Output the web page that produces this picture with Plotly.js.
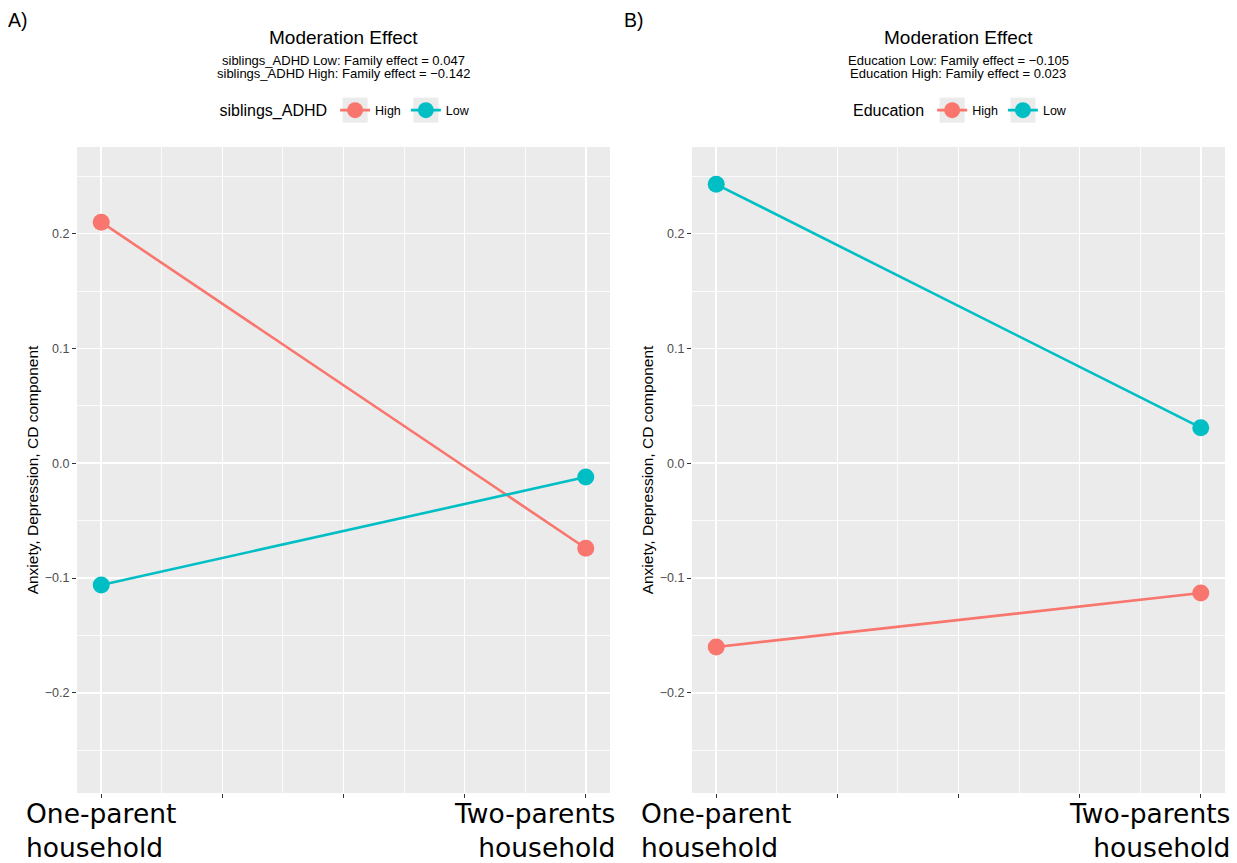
<!DOCTYPE html>
<html><head><meta charset="utf-8">
<script src="https://cdn.plot.ly/plotly-3.0.1.min.js"></script>
<style>html,body{margin:0;padding:0;background:#fff}</style>
</head><body><div id="chart" style="width:1237px;height:863px"></div>
<script>
// ---- data ----
const xPositions = [0, 1];
const xLabelsLeft = ['One-parent', 'household'];
const xLabelsRight = ['Two-parents', 'household'];
const groupNames = ['High', 'Low'];
const panelA_high = [0.210, -0.074];
const panelA_low = [-0.106, -0.012];
const panelB_high = [-0.160, -0.113];
const panelB_low = [0.243, 0.031];
const panelLabels = ['A)', 'B)'];
const panelTitle = 'Moderation Effect';
const panelA_sub = ['siblings_ADHD Low: Family effect = 0.047', 'siblings_ADHD High: Family effect = \u22120.142'];
const panelB_sub = ['Education Low: Family effect = \u22120.105', 'Education High: Family effect = 0.023'];
const legendTitles = ['siblings_ADHD', 'Education'];
const yTitle = 'Anxiety, Depression, CD component';

const RED = '#F8766D', TEAL = '#00BFC4';
const SANS = 'Liberation Sans, Arial, sans-serif';

function tr(y, name, color, xa, ya, leg) {
  return {x: xPositions, y: y, name: name, type: 'scatter', mode: 'lines+markers',
    xaxis: xa, yaxis: ya, legend: leg,
    line: {color: color, width: 2.6},
    marker: {color: color, size: 17}};
}
const data = [
  tr(panelA_high, groupNames[0], RED, 'x', 'y', 'legend'),
  tr(panelA_low, groupNames[1], TEAL, 'x', 'y', 'legend'),
  tr(panelB_high, groupNames[0], RED, 'x2', 'y2', 'legend2'),
  tr(panelB_low, groupNames[1], TEAL, 'x2', 'y2', 'legend2')
];

const W = 1237, H = 863;
const domA = [77/W, 610/W], domB = [692/W, 1225/W];
const ydom = [1-793/H, 1-147/H];

function xax(dom, anchor) {
  return {domain: dom, anchor: anchor, range: [-0.05, 1.05], tickmode: 'linear', tick0: 0, dtick: 0.25,
    showticklabels: false, ticks: 'outside', ticklen: 4, tickwidth: 1.1, tickcolor: '#333333',
    showgrid: true, gridcolor: '#FFFFFF', gridwidth: 1.6, zeroline: false, showline: false,
    minor: {tick0: 0.125, dtick: 0.25, showgrid: true, gridcolor: '#FFFFFF', gridwidth: 0.8, ticks: ''}};
}
function yax(anchor) {
  return {domain: ydom, anchor: anchor, range: [-0.2872, 0.2755], tickmode: 'linear', tick0: 0, dtick: 0.1,
    tickformat: '.1f', ticks: 'outside', ticklen: 4, tickwidth: 1.1, tickcolor: '#333333',
    tickfont: {family: SANS, size: 12.5, color: '#4D4D4D'},
    showgrid: true, gridcolor: '#FFFFFF', gridwidth: 1.6, zeroline: false, showline: false,
    minor: {tick0: 0.05, dtick: 0.1, showgrid: true, gridcolor: '#FFFFFF', gridwidth: 0.8, ticks: ''},
    title: {text: yTitle, font: {family: SANS, size: 15.5, color: '#000'}, standoff: 2}};
}

const ann = [];
function panelText(dom, label, labelX, subs) {
  const cx = (dom[0]+dom[1])/2;
  ann.push({xref: 'paper', yref: 'paper', x: labelX/W, y: 1-20/H, xanchor: 'left', yanchor: 'middle',
    text: label, showarrow: false, font: {family: SANS, size: 19.5, color: '#000'}});
  ann.push({xref: 'paper', yref: 'paper', x: cx, y: 1-37/H, xanchor: 'center', yanchor: 'middle',
    text: panelTitle, showarrow: false, font: {family: SANS, size: 19, color: '#000'}});
  ann.push({xref: 'paper', yref: 'paper', x: cx, y: 1-60/H, xanchor: 'center', yanchor: 'middle',
    text: subs[0], showarrow: false, font: {family: SANS, size: 13, color: '#000'}});
  ann.push({xref: 'paper', yref: 'paper', x: cx, y: 1-74/H, xanchor: 'center', yanchor: 'middle',
    text: subs[1], showarrow: false, font: {family: SANS, size: 13, color: '#000'}});
}
panelText(domA, panelLabels[0], 6, panelA_sub);
panelText(domB, panelLabels[1], 622, panelB_sub);

function xLabels(xa) {
  const f = {family: 'DejaVu Sans, sans-serif', size: 26.5, color: '#000'};
  ann.push({xref: xa, yref: 'paper', x: xPositions[0], y: 0, xanchor: 'left', yanchor: 'bottom', xshift: -77, yshift: -2,
    align: 'left', text: xLabelsLeft.join('<br>'), showarrow: false, font: f});
  ann.push({xref: xa, yref: 'paper', x: xPositions[1], y: 0, xanchor: 'right', yanchor: 'bottom', xshift: 31, yshift: -2,
    align: 'right', text: xLabelsRight.join('<br>'), showarrow: false, font: f});
}
xLabels('x');
xLabels('x2');

function leg(cx, title) {
  return {orientation: 'h', x: cx, y: 1-111/H, xanchor: 'center', yanchor: 'middle',
    bgcolor: 'rgba(0,0,0,0)', font: {family: SANS, size: 12.5, color: '#000'},
    title: {text: title, side: 'left', font: {family: SANS, size: 16, color: '#000'}},
    itemwidth: 30, tracegroupgap: 0};
}

const layout = {
  width: W, height: H, margin: {l: 0, r: 0, t: 0, b: 0},
  paper_bgcolor: '#FFFFFF', plot_bgcolor: '#EBEBEB',
  showlegend: true,
  xaxis: xax(domA, 'y'), yaxis: yax('x'),
  xaxis2: xax(domB, 'y2'), yaxis2: yax('x2'),
  legend: leg((domA[0]+domA[1])/2 + 3/W, legendTitles[0]),
  legend2: leg((domB[0]+domB[1])/2 + 3/W, legendTitles[1]),
  annotations: ann,
  font: {family: SANS}
};
Plotly.newPlot('chart', data, layout, {displayModeBar: false, staticPlot: true}).then(function(gd) {
  // grey key backgrounds behind legend symbols, placed where Plotly drew them
  const root = gd.getBoundingClientRect();
  const shapes = [];
  gd.querySelectorAll('.legendpoints').forEach(function(g) {
    const pt = g.querySelector('.scatterpts') || g;
    const b = pt.getBoundingClientRect();
    const cx = b.left + b.width/2 - root.left, cy = b.top + b.height/2 - root.top;
    shapes.push({type: 'rect', xref: 'paper', yref: 'paper', layer: 'above', line: {width: 0},
      fillcolor: '#EBEBEB', x0: (cx-12.5)/W, x1: (cx+12.5)/W, y0: 1-(cy+12.5)/H, y1: 1-(cy-12.5)/H});
  });
  return Plotly.relayout(gd, {shapes: shapes});
});
</script></body></html>
